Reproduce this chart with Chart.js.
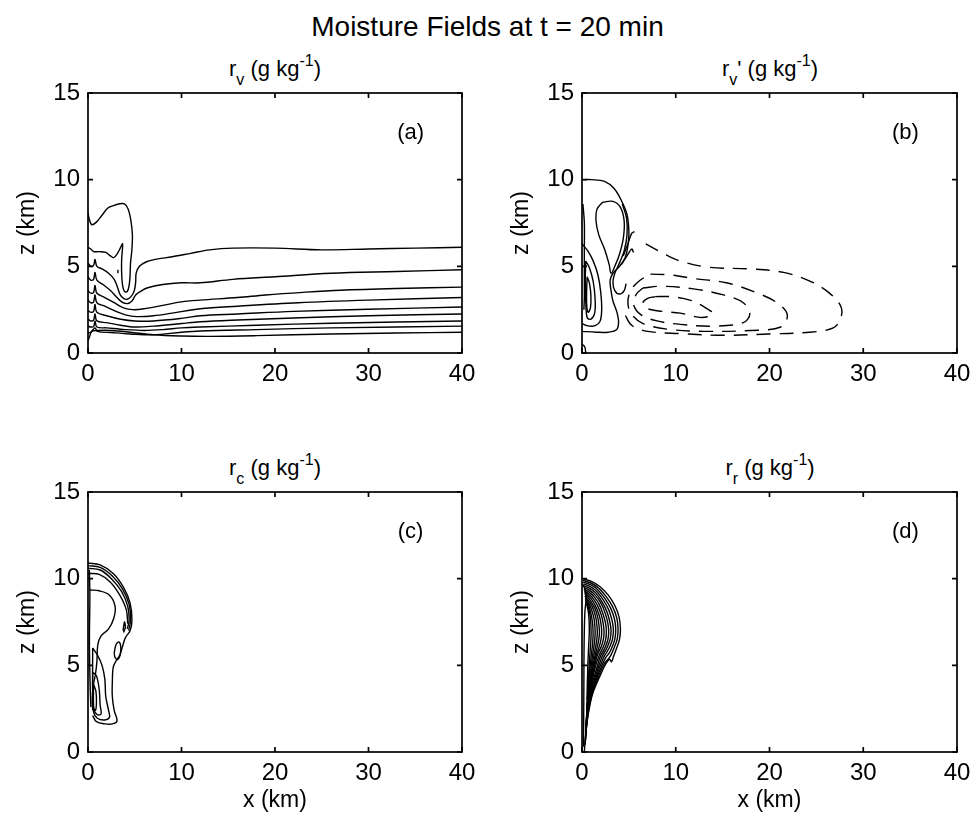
<!DOCTYPE html>
<html>
<head>
<meta charset="utf-8">
<title>Moisture Fields at t = 20 min</title>
<script src="https://cdn.jsdelivr.net/npm/chart.js@4.4.0/dist/chart.umd.min.js"></script>
<style>
  body { margin: 0; background: #fff; font-family: 'Liberation Sans', Arial, sans-serif; color: #000; }
  #page { position: relative; width: 975px; height: 827px; overflow: hidden; }
  #page canvas { position: absolute; }
  .title { position: absolute; left: 0; width: 975px; top: 13px; text-align: center; font-size: 28px; line-height: 28px; }
  .ptitle { position: absolute; width: 300px; text-align: center; font-size: 22px; line-height: 22px; white-space: nowrap; }
  .ptitle sub, .ptitle sup { font-size: 16px; vertical-align: baseline; position: relative; line-height: 0; }
  .ptitle sub { top: 9px; }
  .ptitle sup { top: -10px; }
</style>
</head>
<body>
<div id="page">
  <div class="title">Moisture Fields at t = 20 min</div>
  <div class="ptitle" style="left:125px; top:58px;">r<sub>v</sub> (g kg<sup>-1</sup>)</div>
  <div class="ptitle" style="left:620px; top:58px;">r<sub>v</sub>' (g kg<sup>-1</sup>)</div>
  <div class="ptitle" style="left:125px; top:457px;">r<sub>c</sub> (g kg<sup>-1</sup>)</div>
  <div class="ptitle" style="left:620px; top:457px;">r<sub>r</sub> (g kg<sup>-1</sup>)</div>
  <canvas id="chartA"></canvas>
  <canvas id="chartB"></canvas>
  <canvas id="chartC"></canvas>
  <canvas id="chartD"></canvas>
</div>
<script>
// axes (km)
const xTicks = [0, 10, 20, 30, 40];
const zTicks = [0, 5, 10, 15];
const panelLetterAt = [34.5, 12.7]; // x, z of the (a)..(d) labels

// (a) r_v contours, [x km, z km]
const rvLines = [
  [[0,8.1],[0.15,7.7],[0.4,7.4],[0.9,7.55],[1.5,7.95],[2.1,8.35],[2.7,8.5],[3.3,8.6],[3.9,8.6],[4.3,8.3],[4.6,7.6],[4.75,6.8],[4.7,6.0],[4.55,5.2],[4.5,4.5],[4.4,3.9],[4.2,3.55],[3.9,3.55],[3.7,3.9],[3.6,4.6],[3.6,5.4],[3.7,6.3],[3.45,6.05],[3.1,5.7],[2.75,5.5],[2.4,5.6],[1.9,5.8],[1.2,5.85],[0.6,5.85],[0.3,6.0],[0,6.1]],
  [[0,5.2],[0.3,5.0],[0.6,5.05],[0.75,5.4],[0.95,5.0],[1.5,4.85],[2.2,4.6],[2.8,4.25],[3.15,3.8],[3.45,3.35],[3.8,3.15],[4.2,3.1],[4.6,3.25],[4.95,3.6],[5.1,4.1],[5.15,4.6],[5.5,5.0],[6.2,5.25],[7.2,5.4],[9,5.55],[11,5.75],[13,5.95],[15.5,6.05],[20,6.05],[25,5.95],[30,6.0],[35,6.05],[40,6.1]],
  [[0,4.4],[0.3,4.2],[0.6,4.25],[0.75,4.65],[0.95,4.2],[1.6,3.95],[2.4,3.6],[3.1,3.2],[3.6,2.95],[4.2,2.85],[4.7,3.0],[5.1,3.35],[5.6,3.55],[6.3,3.75],[8,3.95],[10,4.05],[12,4.05],[15.5,4.25],[20,4.4],[26,4.6],[33,4.7],[40,4.8]],
  [[0,3.6],[0.3,3.45],[0.6,3.5],[0.75,3.9],[0.95,3.45],[1.8,3.2],[2.8,2.9],[3.8,2.6],[4.8,2.5],[6,2.55],[8,2.75],[10,2.95],[12,3.05],[16,3.2],[19,3.35],[23,3.5],[27,3.62],[33,3.72],[40,3.8]],
  [[0,3.05],[0.3,2.9],[0.6,2.95],[0.75,3.35],[0.95,2.9],[1.8,2.7],[3,2.4],[4,2.2],[5.2,2.1],[7,2.15],[9,2.3],[12,2.55],[16,2.7],[22.5,2.9],[30,3.05],[40,3.2]],
  [[0,2.45],[0.3,2.35],[0.6,2.4],[0.75,2.8],[0.95,2.35],[2,2.15],[3.5,1.95],[5,1.85],[7,1.85],[10,2.0],[12,2.15],[16,2.25],[22,2.4],[30,2.52],[40,2.65]],
  [[0,1.95],[0.3,1.85],[0.6,1.9],[0.75,2.25],[0.95,1.85],[2,1.75],[3.5,1.6],[5,1.5],[7,1.55],[10,1.7],[12,1.8],[16,1.9],[22,2.02],[30,2.15],[40,2.25]],
  [[0,1.55],[0.3,1.5],[0.6,1.52],[0.75,1.85],[0.95,1.5],[2,1.45],[4,1.35],[6,1.3],[8,1.35],[10,1.45],[12,1.5],[18,1.6],[26,1.72],[40,1.85]],
  [[0,1.15],[0.3,1.2],[0.75,1.45],[1,1.25],[2.5,1.18],[4.5,1.1],[7,1.05],[10,1.2],[12,1.27],[18,1.35],[26,1.45],[40,1.55]],
  [[0,0.7],[0.2,1.0],[0.4,1.25],[1,1.3],[2.5,1.3],[4.5,1.2],[7,1.05],[10,0.98],[13,0.96],[18,1.0],[26,1.1],[33,1.15],[40,1.2]],
  [[3.2,4.6],[3.2,4.8]]
];

// (b) r_v' positive (solid) and negative (dashed) contours
const rvpPositive = [
  [[0,10.0],[1.0,10.0],[2.4,9.9],[3.4,9.5],[4.2,8.8],[4.8,8.0],[5.0,7.0],[4.9,6.2],[4.6,5.5],[4.0,5.0],[3.3,4.6],[3.0,4.2],[3.1,3.6],[3.3,3.0],[3.7,2.4],[3.9,1.8],[3.7,1.35],[2.8,1.2],[1.5,1.2],[0,1.25]],
  [[2.2,8.7],[3.3,8.75],[4.1,8.4],[4.5,7.6],[4.4,6.6],[4.0,5.7],[3.5,5.0],[3.1,4.6],[2.9,5.1],[2.4,6.0],[1.8,6.8],[1.5,7.6],[1.6,8.3],[2.2,8.7]],
  [[4.3,8.6],[4.75,7.8],[4.8,6.8],[4.5,5.9],[4.0,5.2],[3.5,4.6],[3.3,4.1],[3.5,3.6],[4.0,3.4],[4.5,3.6],[4.7,4.0]],
  [[4.4,5.6],[4.9,6.3],[5.3,6.9],[5.6,7.0]],
  [[4.2,5.1],[4.8,5.6],[5.3,6.0],[5.5,5.8]],
  [[0.1,8.6],[0.25,7.5],[0.25,6.0],[0.25,4.5],[0.25,3.2],[0.2,2.5]],
  [[0,6.3],[0.6,5.9],[1.2,5.3],[1.7,4.5],[2.0,3.5],[2.1,2.5],[1.9,1.8],[1.2,1.55],[0.4,1.6],[0,1.7]],
  [[0.4,5.3],[0.8,4.9],[1.2,4.1],[1.4,3.1],[1.35,2.3],[0.95,1.95],[0.55,2.05],[0.4,3.0],[0.35,4.2],[0.4,5.3]],
  [[0.55,4.4],[0.8,4.0],[0.95,3.3],[0.9,2.6],[0.65,2.35],[0.5,2.8],[0.5,3.7],[0.55,4.4]],
  [[0,0.5],[0.3,0.35],[0.4,0.0]]
];
const rvpNegative = [
  [[6.8,6.3],[8.5,5.8],[10.5,5.3],[13.5,4.95],[18,4.85],[21.5,4.65],[24.3,4.15],[26.3,3.5],[27.6,2.7],[27.6,2.0],[26.8,1.45],[24.3,1.2],[20,1.1],[15,1.02],[10.5,1.12],[7,1.25],[5.3,1.6],[4.5,2.3]],
  [[7.3,4.55],[9.5,4.5],[11.9,4.3],[15.4,4.05],[18.5,3.5],[20.8,2.9],[21.9,2.2],[21.2,1.5],[18,1.3],[13,1.25],[9.5,1.35],[6.5,1.7],[5.2,2.3],[4.9,3.0],[5.3,3.7],[6.2,4.2],[7.3,4.55]],
  [[6.5,3.75],[8.5,3.85],[11.9,3.7],[15.1,3.35],[17.2,2.9],[17.9,2.25],[17.2,1.75],[14,1.55],[10.5,1.65],[8,1.85],[6.3,2.2],[5.5,2.8],[5.8,3.4],[6.5,3.75]],
  [[7.8,3.25],[9.5,3.25],[11.5,3.05],[12.9,2.7],[14.0,2.25],[12.7,2.05],[10.5,2.3],[8.5,2.4],[6.8,2.6],[6.5,2.9],[7.0,3.15],[7.8,3.25]]
];

// (c) r_c contours
const rcLines = [
  [[0,10.9],[1.3,10.8],[2.7,10.3],[3.8,9.5],[4.5,8.6],[4.7,7.6],[4.5,7.0],[4.0,6.6],[3.7,6.1],[3.4,5.6],[3.0,5.25],[2.7,4.9],[2.6,4.0],[2.6,3.2],[2.8,2.4],[3.1,1.8],[2.6,1.62],[1.8,1.62],[0.9,1.75],[0.5,2.1]],
  [[0,10.75],[1.3,10.65],[2.6,10.15],[3.7,9.4],[4.4,8.5],[4.55,7.6],[4.35,7.0]],
  [[0,10.6],[1.3,10.5],[2.5,10.0],[3.6,9.25],[4.25,8.4],[4.4,7.6],[4.2,7.1]],
  [[0,10.3],[1.2,10.25],[2.4,9.8],[3.4,9.05],[4.1,8.2],[4.25,7.4]],
  [[0.2,9.35],[1.2,9.3],[2.3,9.05],[2.9,8.4],[2.75,7.7],[2.2,7.1],[1.4,6.7],[1.05,6.2],[0.95,5.2],[0.8,4.5],[0.55,3.8],[0.45,3.0],[0.5,2.4]],
  [[2.8,5.7],[3.0,6.2],[3.3,6.35],[3.5,6.1],[3.45,5.6],[3.2,5.35],[2.9,5.45],[2.8,5.7]],
  [[3.75,7.0],[3.9,7.5],[4.0,7.2],[3.8,6.9]],
  [[0.5,6.0],[1.0,5.6],[1.5,5.0],[1.8,4.2],[1.9,3.2],[2.2,2.4],[2.3,2.0],[1.8,1.85],[1.0,1.95],[0.6,2.3],[0.5,3.5],[0.5,6.0]],
  [[0.5,4.6],[0.9,4.4],[1.2,3.6],[1.3,2.7],[1.4,2.2],[1.0,2.15],[0.6,2.5],[0.5,3.5],[0.5,4.6]],
  [[0.6,3.9],[0.85,3.5],[0.9,2.8],[0.8,2.4],[0.6,2.6],[0.6,3.9]],
  [[0.15,10.5],[0.2,9.0],[0.15,6.5],[0.2,4.5],[0.3,2.6]]
];

// (d) r_r contours
const rrLines = [
  [[0.05,10.0],[1.0,9.85],[1.9,9.55],[2.8,9.05],[3.5,8.45],[3.95,7.8],[4.1,7.1],[4.0,6.5],[3.7,6.0],[3.35,5.5],[3.15,5.2],[2.95,5.35],[2.55,5.1],[2.1,4.6],[1.6,4.0],[1.1,3.3],[0.7,2.3],[0.45,1.3],[0.3,0.4],[0.25,0]],
  [[0.1,9.9],[0.95,9.75],[1.8,9.45],[2.6,8.95],[3.25,8.4],[3.7,7.75],[3.85,7.1],[3.75,6.5],[3.45,6.05],[3.1,5.6],[2.85,5.4],[2.45,5.15],[1.95,4.6],[1.5,4.0],[1.05,3.3],[0.68,2.3],[0.45,1.3],[0.32,0.4]],
  [[0.1,9.8],[0.9,9.65],[1.7,9.35],[2.45,8.85],[3.05,8.3],[3.45,7.7],[3.6,7.1],[3.5,6.5],[3.2,6.05],[2.9,5.7],[2.6,5.5],[2.3,5.2],[1.85,4.65],[1.4,4.0],[1.0,3.3],[0.65,2.35],[0.45,1.4],[0.35,0.5]],
  [[0.15,9.7],[0.85,9.55],[1.6,9.25],[2.3,8.75],[2.85,8.2],[3.2,7.6],[3.35,7.05],[3.25,6.5],[2.98,6.1],[2.7,5.8],[2.45,5.6],[2.15,5.25],[1.75,4.7],[1.35,4.05],[0.95,3.35],[0.63,2.4],[0.45,1.5],[0.37,0.7]],
  [[0.15,9.6],[0.8,9.45],[1.5,9.15],[2.15,8.65],[2.65,8.1],[2.97,7.5],[3.1,7.0],[3.0,6.5],[2.77,6.15],[2.5,5.85],[2.25,5.62],[2.0,5.3],[1.65,4.75],[1.28,4.1],[0.9,3.4],[0.62,2.5],[0.46,1.6],[0.38,0.9]],
  [[0.2,9.5],[0.75,9.35],[1.4,9.05],[2.0,8.6],[2.45,8.05],[2.75,7.45],[2.85,6.95],[2.77,6.5],[2.55,6.15],[2.3,5.85],[2.05,5.62],[1.85,5.35],[1.55,4.8],[1.2,4.15],[0.88,3.45],[0.6,2.6],[0.47,1.7],[0.4,1.0]],
  [[0.2,9.4],[0.7,9.25],[1.3,8.95],[1.85,8.5],[2.25,7.95],[2.52,7.4],[2.6,6.95],[2.53,6.5],[2.33,6.15],[2.08,5.85],[1.85,5.6],[1.65,5.3],[1.4,4.85],[1.12,4.2],[0.85,3.5],[0.6,2.7],[0.48,1.8],[0.42,1.1]],
  [[0.25,9.3],[0.65,9.15],[1.2,8.85],[1.7,8.4],[2.07,7.88],[2.28,7.35],[2.35,6.9],[2.28,6.5],[2.1,6.15],[1.85,5.85],[1.62,5.55],[1.45,5.2],[1.25,4.75],[1.02,4.15],[0.8,3.5],[0.58,2.75],[0.48,1.9],[0.44,1.2]],
  [[0.25,9.2],[0.6,9.05],[1.1,8.75],[1.55,8.3],[1.88,7.8],[2.05,7.3],[2.1,6.9],[2.03,6.5],[1.86,6.12],[1.63,5.77],[1.43,5.42],[1.28,5.0],[1.12,4.55],[0.94,4.0],[0.75,3.4],[0.57,2.7],[0.48,1.95],[0.45,1.3]],
  [[0.3,9.1],[0.58,8.95],[1.0,8.65],[1.4,8.25],[1.68,7.77],[1.82,7.25],[1.86,6.85],[1.78,6.45],[1.62,6.05],[1.43,5.65],[1.27,5.25],[1.15,4.85],[1.02,4.4],[0.87,3.85],[0.7,3.3],[0.56,2.65],[0.49,2.0],[0.46,1.4]],
  [[0.3,9.0],[0.55,8.85],[0.9,8.57],[1.25,8.18],[1.49,7.72],[1.6,7.25],[1.63,6.85],[1.56,6.4],[1.41,5.95],[1.25,5.55],[1.12,5.1],[1.02,4.7],[0.92,4.25],[0.8,3.75],[0.66,3.2],[0.55,2.6],[0.5,2.0],[0.47,1.5]],
  [[0.35,8.9],[0.55,8.75],[0.82,8.48],[1.1,8.08],[1.3,7.65],[1.38,7.2],[1.4,6.8],[1.33,6.3],[1.2,5.85],[1.08,5.4],[0.98,4.95],[0.9,4.55],[0.82,4.1],[0.72,3.6],[0.62,3.1],[0.54,2.55],[0.5,2.0],[0.48,1.6]],
  [[0.35,8.8],[0.52,8.65],[0.75,8.4],[0.95,8.0],[1.1,7.55],[1.17,7.1],[1.18,6.7],[1.12,6.2],[1.02,5.75],[0.93,5.3],[0.85,4.85],[0.78,4.45],[0.72,4.0],[0.65,3.5],[0.58,3.0],[0.53,2.5],[0.5,2.0]],
  [[0.4,8.7],[0.55,8.5],[0.75,8.2],[0.88,7.8],[0.95,7.3],[0.97,6.8],[0.93,6.3],[0.86,5.8],[0.8,5.3],[0.74,4.8],[0.69,4.3],[0.64,3.8],[0.6,3.3],[0.55,2.8],[0.52,2.3]],
  [[0.45,8.6],[0.58,8.35],[0.7,8.0],[0.76,7.5],[0.78,7.0],[0.75,6.5],[0.7,6.0],[0.66,5.5],[0.62,5.0],[0.6,4.5],[0.57,4.0],[0.55,3.5],[0.53,3.0]],
  [[0.0,9.7],[0.2,9.55],[0.35,9.3],[0.45,9.0],[0.3,8.0],[0.22,6.0],[0.2,4.0],[0.18,2.0],[0.15,0.3]]
];

const FONT = "'Liberation Sans', Arial, sans-serif";
const YAXIS_W = 88, XAXIS_H = 70, PAD_T = 30, PAD_R = 30;

// box all round with inward ticks, MATLAB style, plus the panel letter
const framePlugin = {
  id: 'frame',
  afterDatasetsDraw(chart, args, opts) {
    const { ctx, chartArea: a, scales: { x, y } } = chart;
    ctx.save();
    ctx.strokeStyle = '#000';
    ctx.lineWidth = 1.7;
    ctx.strokeRect(a.left, a.top, a.right - a.left, a.bottom - a.top);
    ctx.beginPath();
    x.ticks.forEach(t => {
      const px = x.getPixelForValue(t.value);
      ctx.moveTo(px, a.bottom); ctx.lineTo(px, a.bottom - 5);
      ctx.moveTo(px, a.top); ctx.lineTo(px, a.top + 5);
    });
    y.ticks.forEach(t => {
      const py = y.getPixelForValue(t.value);
      ctx.moveTo(a.left, py); ctx.lineTo(a.left + 5, py);
      ctx.moveTo(a.right, py); ctx.lineTo(a.right - 5, py);
    });
    ctx.stroke();
    ctx.fillStyle = '#000';
    ctx.font = '22px ' + FONT;
    ctx.textAlign = 'center';
    ctx.textBaseline = 'middle';
    ctx.fillText(opts.letter, x.getPixelForValue(panelLetterAt[0]), y.getPixelForValue(panelLetterAt[1]));
    ctx.restore();
  }
};

function toDataset(line, dashed) {
  return {
    data: line.map(([x, z]) => ({ x, y: z })),
    showLine: true,
    borderColor: '#000',
    borderWidth: 1.4,
    borderDash: dashed ? [14, 9] : [],
    pointRadius: 0,
    fill: false,
    tension: 0.35
  };
}

function makePanel(id, plotLeft, plotTop, plotW, plotH, solid, dashed, letter, showXTitle) {
  const canvas = document.getElementById(id);
  const w = YAXIS_W + plotW + PAD_R;
  const h = PAD_T + plotH + XAXIS_H;
  canvas.width = w;
  canvas.height = h;
  canvas.style.left = (plotLeft - YAXIS_W) + 'px';
  canvas.style.top = (plotTop - PAD_T) + 'px';
  canvas.style.width = w + 'px';
  canvas.style.height = h + 'px';

  const datasets = solid.map(l => toDataset(l, false)).concat(dashed.map(l => toDataset(l, true)));

  new Chart(canvas, {
    type: 'scatter',
    data: { datasets },
    plugins: [framePlugin],
    options: {
      responsive: false,
      animation: false,
      devicePixelRatio: 1,
      layout: { padding: { top: PAD_T, right: PAD_R, left: 0, bottom: 0 } },
      plugins: {
        legend: { display: false },
        tooltip: { enabled: false },
        frame: { letter }
      },
      scales: {
        x: {
          type: 'linear', min: 0, max: 40,
          grid: { display: false, drawTicks: false },
          border: { display: false },
          afterBuildTicks: s => { s.ticks = xTicks.map(v => ({ value: v })); },
          afterFit: s => { s.height = XAXIS_H; },
          ticks: { color: '#000', font: { size: 24, family: FONT }, padding: 7, maxRotation: 0 },
          title: { display: showXTitle, text: 'x (km)', color: '#000', font: { size: 23, family: FONT }, padding: { top: 0, bottom: 8 } }
        },
        y: {
          type: 'linear', min: 0, max: 15,
          grid: { display: false, drawTicks: false },
          border: { display: false },
          afterBuildTicks: s => { s.ticks = zTicks.map(v => ({ value: v })); },
          afterFit: s => { s.width = YAXIS_W; },
          ticks: { color: '#000', font: { size: 24, family: FONT }, padding: 8 },
          title: { display: true, text: 'z (km)', color: '#000', font: { size: 23, family: FONT }, padding: { top: 14, bottom: 0 } }
        }
      }
    }
  });
}

window.addEventListener('load', () => {
  makePanel('chartA', 88, 93, 374, 260, rvLines, [], '(a)', false);
  makePanel('chartB', 582, 93, 375, 260, rvpPositive, rvpNegative, '(b)', false);
  makePanel('chartC', 88, 492, 374, 260, rcLines, [], '(c)', true);
  makePanel('chartD', 582, 492, 375, 260, rrLines, [], '(d)', true);
});
</script>
</body>
</html>
